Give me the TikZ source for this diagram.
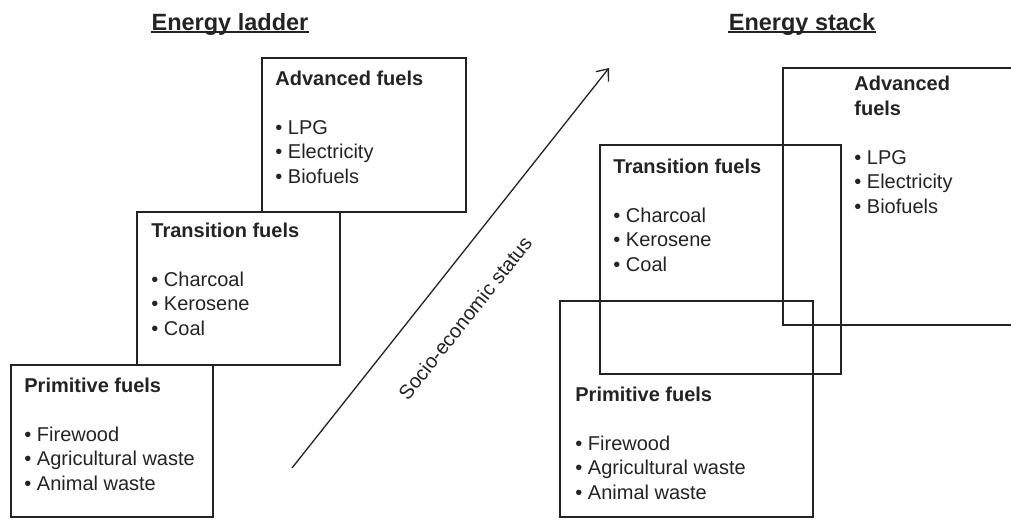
\documentclass[tikz,border=0pt]{standalone}
\usepackage{fontspec}
\setmainfont{Liberation Sans}
\usetikzlibrary{fit,arrows.meta}
\definecolor{inkgray}{RGB}{35,35,35}
\tikzset{
	fuelbox/.style={draw=inkgray, line width=1pt, inner sep=0pt},
	fueltext/.style={anchor=base west, align=left, inner sep=0pt, text=inkgray, font=\fontsize{10}{12.25}\selectfont},
	heading/.style={anchor=base, inner sep=0pt, text=inkgray, font=\fontsize{11.75}{14}\selectfont\bfseries},
}

\begin{document}
\begin{tikzpicture}[x=0.5pt, y=-0.5pt]

	\clip (0,0) rectangle (1011,520);

	% headings
	\node[heading] (ladder) at (230,30) {Energy ladder};
	\node[heading] (stack) at (802,30) {Energy stack};
	\foreach \h in {ladder,stack}
	{
		\draw[inkgray, line width=1pt] ([yshift=-1.2pt]\h.base west) -- ([yshift=-1.2pt]\h.base east);
	}

	% energy ladder (text placed on the baseline of its last line)
	\node[fuelbox, fit={(11,365) (213,517)}] (ladP) {};
	\node[fuelbox, fit={(137,212) (340,365)}] (ladT) {};
	\node[fuelbox, fit={(262,58) (466,212)}] (ladA) {};
	\node[fueltext] (ladPtext) at (24,490) {\textbf{Primitive fuels}\\[\baselineskip]• Firewood\\• Agricultural waste\\• Animal waste};
	\node[fueltext] (ladTtext) at (151,335) {\textbf{Transition fuels}\\[\baselineskip]• Charcoal\\• Kerosene\\• Coal};
	\node[fueltext] (ladAtext) at (275,183) {\textbf{Advanced fuels}\\[\baselineskip]• LPG\\• Electricity\\• Biofuels};

	% socio-economic status
	\coordinate (low) at (292,468);
	\coordinate (high) at (609,68);
	\draw[inkgray, line width=0.65pt, -{Straight Barb[length=5pt,width=8pt]}] (low) -- (high);
	\node[text=inkgray, font=\fontsize{10}{12}\selectfont, rotate=51.6] (status) at (465,318) {Socio-economic status};

	% energy stack
	\node[fuelbox, fit={(783,68) (1030,325)}] (stkA) {};
	\node[fuelbox, fit={(600,145) (841,374)}] (stkT) {};
	\node[fuelbox, fit={(560,301) (813,517)}] (stkP) {};
	\node[fueltext] (stkAtext) at (854,213) {\textbf{Advanced}\\\textbf{fuels}\\[\baselineskip]• LPG\\• Electricity\\• Biofuels};
	\node[fueltext] (stkTtext) at (613,271) {\textbf{Transition fuels}\\[\baselineskip]• Charcoal\\• Kerosene\\• Coal};
	\node[fueltext] (stkPtext) at (575,499) {\textbf{Primitive fuels}\\[\baselineskip]• Firewood\\• Agricultural waste\\• Animal waste};

\end{tikzpicture}
\end{document}
